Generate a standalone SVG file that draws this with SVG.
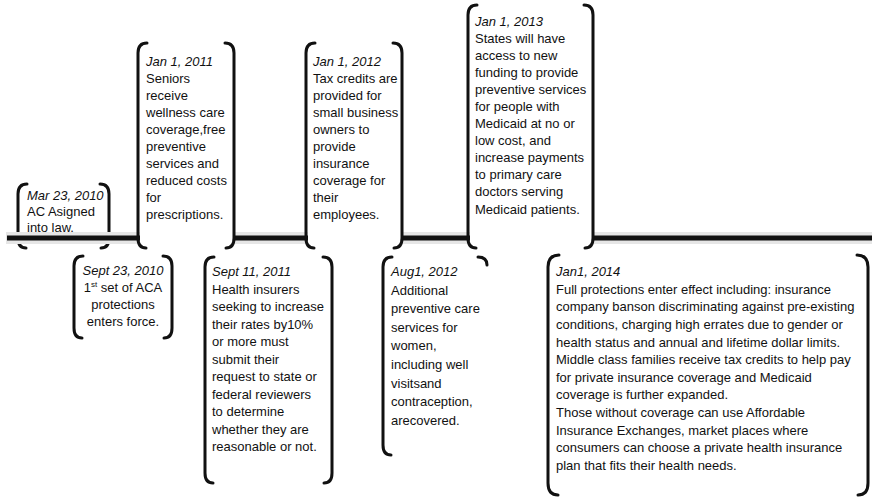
<svg xmlns="http://www.w3.org/2000/svg" width="872" height="500" viewBox="0 0 872 500">
<style>
.br{fill:none;stroke:#111;stroke-width:3;stroke-linecap:round}
.bg{fill:#fff;stroke:none}
text{font-family:"Liberation Sans",Arial,sans-serif;font-size:13px;fill:#111}
.d{font-style:italic}
.c{text-anchor:middle}
</style>
<rect x="0" y="0" width="872" height="500" fill="#fff"/>
<g id="mar2010">
<path class="br" d="M27,184 Q18,184 18,194 L18,238 Q18,248 26,248"/>
<path class="br" d="M100,184 Q109,184 109,194 L109,238 Q109,248 101,248"/>
<text x="27" y="200" class="d">Mar 23, 2010</text>
<text x="27" y="216">AC Asigned</text>
<text x="27" y="232">into law.</text>
</g>
<g id="timeline">
<rect x="6" y="232" width="866" height="12" fill="#e6e6e6"/>
<rect x="7" y="235.5" width="865" height="5" fill="#111"/>
</g>
<g id="jan2011">
<rect class="bg" x="140" y="44" width="93" height="203"/>
<path class="br" d="M147,43 Q138,43 138,53 L138,238 Q138,248 146,248"/>
<path class="br" d="M225,43 Q234,43 234,53 L234,238 Q234,248 226,248"/>
<text x="146" y="66" class="d">Jan 1, 2011</text>
<text x="146" y="83">Seniors</text>
<text x="146" y="100">receive</text>
<text x="146" y="117">wellness care</text>
<text x="146" y="134">coverage,free</text>
<text x="146" y="151">preventive</text>
<text x="146" y="168">services and</text>
<text x="146" y="185">reduced costs</text>
<text x="146" y="202">for</text>
<text x="146" y="219">prescriptions.</text>
</g>
<g id="jan2012">
<rect class="bg" x="308" y="44" width="93" height="203"/>
<path class="br" d="M315,43 Q306,43 306,53 L306,238 Q306,248 314,248"/>
<path class="br" d="M393,43 Q402,43 402,53 L402,238 Q402,248 394,248"/>
<text x="313" y="66" class="d">Jan 1, 2012</text>
<text x="313" y="83">Tax credits are</text>
<text x="313" y="100">provided for</text>
<text x="313" y="117">small business</text>
<text x="313" y="134">owners to</text>
<text x="313" y="151">provide</text>
<text x="313" y="168">insurance</text>
<text x="313" y="185">coverage for</text>
<text x="313" y="202">their</text>
<text x="313" y="219">employees.</text>
</g>
<g id="jan2013">
<rect class="bg" x="470" y="6" width="122" height="241"/>
<path class="br" d="M477,5 Q468,5 468,15 L468,238 Q468,248 476,248"/>
<path class="br" d="M584,5 Q593,5 593,15 L593,238 Q593,248 585,248"/>
<text x="475" y="26" class="d">Jan 1, 2013</text>
<text x="475" y="43">States will have</text>
<text x="475" y="60">access to new</text>
<text x="475" y="77">funding to provide</text>
<text x="475" y="94">preventive services</text>
<text x="475" y="111">for people with</text>
<text x="475" y="128">Medicaid at no or</text>
<text x="475" y="145">low cost, and</text>
<text x="475" y="162">increase payments</text>
<text x="475" y="179">to primary care</text>
<text x="475" y="196">doctors serving</text>
<text x="475" y="214">Medicaid patients.</text>
</g>
<g id="sep2010">
<path class="br" d="M83,256 Q74,256 74,266 L74,328 Q74,338 82,338"/>
<path class="br" d="M163,256 Q172,256 172,266 L172,328 Q172,338 164,338"/>
<text x="123" y="275" class="d c">Sept 23, 2010</text>
<text x="123" y="292" class="c">1<tspan font-size="8" dy="-5">st</tspan><tspan dy="5"> set of ACA</tspan></text>
<text x="123" y="309" class="c">protections</text>
<text x="123" y="326" class="c">enters force.</text>
</g>
<g id="sep2011">
<path class="br" d="M214,257 Q205,257 205,267 L205,473 Q205,483 213,483"/>
<path class="br" d="M323,257 Q332,257 332,267 L332,473 Q332,483 324,483"/>
<text x="212" y="276" class="d">Sept 11, 2011</text>
<text x="212" y="293.5">Health insurers</text>
<text x="212" y="311">seeking to increase</text>
<text x="212" y="328.5">their rates by10%</text>
<text x="212" y="346">or more must</text>
<text x="212" y="363.5">submit their</text>
<text x="212" y="381">request to state or</text>
<text x="212" y="398.5">federal reviewers</text>
<text x="212" y="416">to determine</text>
<text x="212" y="433.5">whether they are</text>
<text x="212" y="451">reasonable or not.</text>
</g>
<g id="aug2012">
<path class="br" d="M392,257 Q383,257 383,267 L383,445 Q383,455 391,455"/>
<path class="br" d="M478,257 Q487,257 487,265"/>
<text x="391" y="276" class="d">Aug1, 2012</text>
<text x="391" y="294.6">Additional</text>
<text x="391" y="313.2">preventive care</text>
<text x="391" y="331.8">services for</text>
<text x="391" y="350.4">women,</text>
<text x="391" y="369">including well</text>
<text x="391" y="387.6">visitsand</text>
<text x="391" y="406.2">contraception,</text>
<text x="391" y="425">arecovered.</text>
</g>
<g id="jan2014">
<path class="br" d="M559,255 Q548,255 548,267 L548,483 Q548,495 558,495"/>
<path class="br" d="M857,255 Q868,255 868,267 L868,483 Q868,495 858,495"/>
<text x="556" y="276" class="d">Jan1, 2014</text>
<text x="556" y="293.6">Full protections enter effect including: insurance</text>
<text x="556" y="311.3">company banson discriminating against pre-existing</text>
<text x="556" y="328.9">conditions, charging high errates due to gender or</text>
<text x="556" y="346.5">health status and annual and lifetime dollar limits.</text>
<text x="556" y="364.2">Middle class families receive tax credits to help pay</text>
<text x="556" y="381.8">for private insurance coverage and Medicaid</text>
<text x="556" y="399.4">coverage is further expanded.</text>
<text x="556" y="417.1">Those without coverage can use Affordable</text>
<text x="556" y="434.7">Insurance Exchanges, market places where</text>
<text x="556" y="452.3">consumers can choose a private health insurance</text>
<text x="556" y="470">plan that fits their health needs.</text>
</g>
</svg>
